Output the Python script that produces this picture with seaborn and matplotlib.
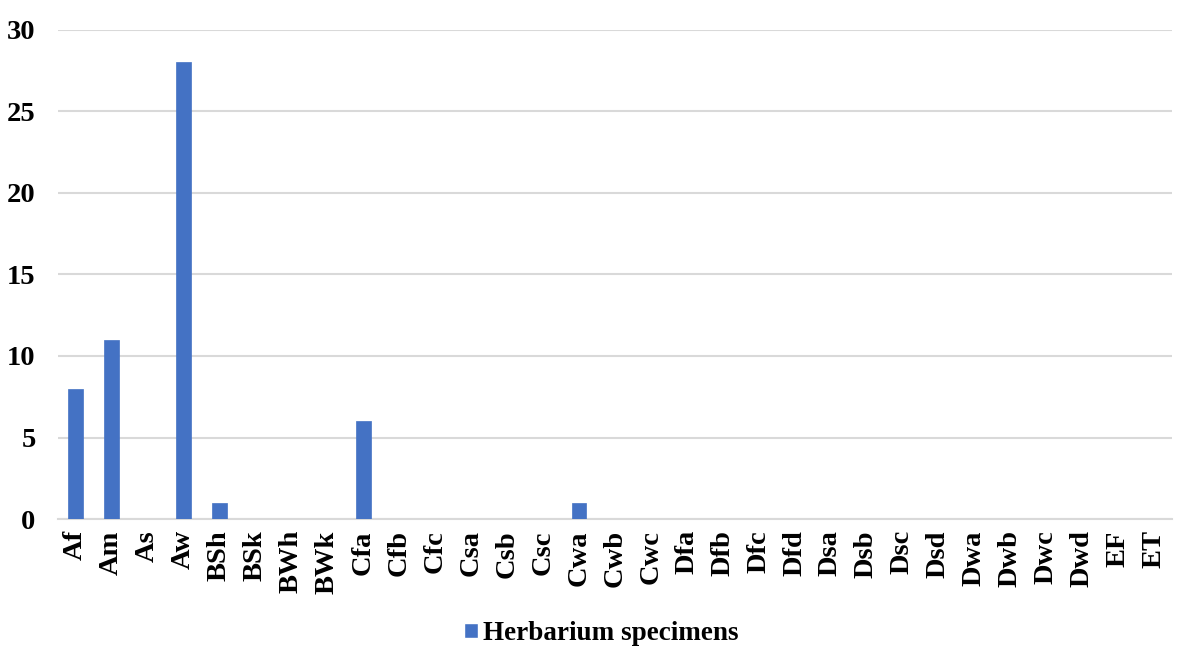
import matplotlib
matplotlib.use("Agg")
import matplotlib.pyplot as plt
import seaborn as sns
import pandas as pd
from matplotlib.patches import Patch

categories = ["Af", "Am", "As", "Aw", "BSh", "BSk", "BWh", "BWk", "Cfa", "Cfb", "Cfc",
              "Csa", "Csb", "Csc", "Cwa", "Cwb", "Cwc", "Dfa", "Dfb", "Dfc", "Dfd",
              "Dsa", "Dsb", "Dsc", "Dsd", "Dwa", "Dwb", "Dwc", "Dwd", "EF", "ET"]
values = [8, 11, 0, 28, 1, 0, 0, 0, 6, 0, 0,
          0, 0, 0, 1, 0, 0, 0, 0, 0, 0,
          0, 0, 0, 0, 0, 0, 0, 0, 0, 0]
series_name = "Herbarium specimens"

df = pd.DataFrame({"zone": categories, "count": values})

sns.set_theme(style="white")
plt.rcParams["font.family"] = ["Liberation Serif", "DejaVu Serif"]
plt.rcParams["font.weight"] = "bold"
plt.rcParams["text.color"] = "black"

fig = plt.figure(figsize=(11.79, 6.48), dpi=100)
ax = fig.add_axes([0.049, 0.199, 0.945, 0.755])

color = "#4472C4"
sns.barplot(data=df, x="zone", y="count", color=color, width=0.41,
            saturation=1, edgecolor=color, linewidth=0.5, ax=ax, zorder=3)

ax.set_ylim(0, 30)
ax.set_yticks([0, 5, 10, 15, 20, 25, 30])
ax.set_xlim(-0.5, len(categories) - 0.5)
ax.yaxis.grid(True, color="#d9d9d9", linewidth=1.5, zorder=0)
ax.set_axisbelow(True)
for s in ["top", "right", "left"]:
    ax.spines[s].set_visible(False)
ax.spines["bottom"].set_color("#d9d9d9")
ax.spines["bottom"].set_linewidth(1.5)
ax.tick_params(axis="both", length=0, labelsize=20.5, colors="black")
ax.tick_params(axis="y", pad=16)
ax.tick_params(axis="x", pad=8)
for lbl in ax.get_xticklabels():
    lbl.set_rotation(90)
    lbl.set_fontweight("bold")
for lbl in ax.get_yticklabels():
    lbl.set_fontweight("bold")
ax.set_xlabel("")
ax.set_ylabel("")

handles = [Patch(facecolor=color, label=series_name)]
fig.legend(handles=handles, loc="center", bbox_to_anchor=(0.51, 0.022),
           frameon=False, prop={"size": 19.5, "weight": "bold"},
           handlelength=0.5, handleheight=0.5, handletextpad=0.2,
           labelcolor="black")

fig.savefig("out.png", dpi=100)
